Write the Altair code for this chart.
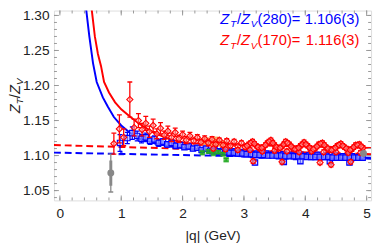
import altair as alt
import pandas as pd

FONT = "Liberation Sans"
RED = "#ff0000"
BLUE = "#0000ff"

# ---------------- data ----------------
red_q = [0.88, 0.97, 1.04, 1.14, 1.21, 1.28, 1.34, 1.40, 1.46, 1.52, 1.58, 1.64, 1.70, 1.76,
         1.82, 1.88, 1.94, 2.00, 2.06, 2.12, 2.18, 2.24, 2.30, 2.36, 2.42, 2.48, 2.54, 2.60,
         2.66, 2.72, 2.78, 2.84, 2.90, 2.96,
         3.02, 3.08, 3.14, 3.20, 3.26, 3.32, 3.38, 3.44, 3.50, 3.56, 3.62, 3.68, 3.74, 3.80,
         3.86, 3.92, 3.98, 4.04, 4.10, 4.16, 4.22, 4.28, 4.34, 4.40, 4.46, 4.52, 4.58, 4.64,
         4.70, 4.76, 4.82, 4.88, 4.94,
         2.50, 2.70, 2.90, 3.10, 3.30, 3.50, 3.70, 3.90, 4.10, 4.30, 4.50, 4.70, 4.90,
         3.15, 3.62, 4.24, 4.42, 4.74,
         3.05, 3.11, 3.17, 3.23, 3.29, 3.35, 3.41, 3.47, 3.53, 3.59, 3.65, 3.71, 3.77, 3.83,
         3.89, 3.95, 4.01, 4.07, 4.13, 4.19, 4.25, 4.31, 4.37, 4.43, 4.49, 4.55, 4.61, 4.67,
         4.73, 4.79, 4.85, 4.91]
red_z = [1.117, 1.138, 1.126, 1.180, 1.140, 1.150, 1.137, 1.146, 1.134, 1.143, 1.131, 1.139, 1.129, 1.135,
         1.126, 1.133, 1.124, 1.130, 1.122, 1.128, 1.121, 1.126, 1.119, 1.124, 1.118, 1.123, 1.116, 1.122,
         1.115, 1.121, 1.114, 1.120, 1.113, 1.118,
         1.112, 1.116, 1.120, 1.114, 1.110, 1.112, 1.118, 1.122, 1.115, 1.110, 1.113, 1.120, 1.116, 1.110,
         1.109, 1.114, 1.119, 1.114, 1.109, 1.110, 1.116, 1.118, 1.112, 1.108, 1.109, 1.114, 1.117, 1.112,
         1.108, 1.109, 1.115, 1.116, 1.111,
         1.110, 1.109, 1.108, 1.108, 1.106, 1.107, 1.106, 1.105, 1.106, 1.105, 1.105, 1.104, 1.104,
         1.092, 1.091, 1.090, 1.087, 1.091,
         1.114, 1.118, 1.117, 1.112, 1.111, 1.115, 1.120, 1.118, 1.112, 1.111, 1.116, 1.118, 1.113, 1.109,
         1.111, 1.116, 1.116, 1.111, 1.109, 1.113, 1.117, 1.115, 1.110, 1.108, 1.111, 1.115, 1.114, 1.110,
         1.108, 1.112, 1.115, 1.113]
red_e = [0.015, 0.020, 0.012, 0.025, 0.012, 0.010, 0.009, 0.010, 0.008, 0.009, 0.007, 0.008, 0.006, 0.007,
         0.006, 0.006, 0.005, 0.005, 0.005, 0.005, 0.004, 0.004, 0.004, 0.004, 0.004, 0.004, 0.003, 0.003,
         0.003, 0.003, 0.003, 0.003, 0.003, 0.003] + [0.003] * 33 + [0.003] * 13 + [0.003] * 5 + [0.003] * 32

blue_q = [0.98, 1.10, 1.18, 1.26, 1.33, 1.40, 1.47, 1.54, 1.61, 1.68, 1.75, 1.82, 1.89, 1.96,
          2.03, 2.10, 2.17, 2.24, 2.31, 2.38, 2.45, 2.52, 2.59, 2.66, 2.73, 2.80, 2.87, 2.94,
          3.01, 3.08, 3.15, 3.22, 3.29, 3.36, 3.43, 3.50, 3.57, 3.64, 3.71, 3.78, 3.85, 3.92,
          3.99, 4.06, 4.13, 4.20, 4.27, 4.34, 4.41, 4.48, 4.55, 4.62, 4.69, 4.76, 4.83, 4.90,
          3.18, 3.65, 3.92, 4.40, 4.72,
          2.485, 2.555, 2.625, 2.695, 2.765, 2.835, 2.905, 2.975, 3.045, 3.115, 3.185, 3.255,
          3.325, 3.395, 3.465, 3.535, 3.605, 3.675, 3.745, 3.815, 3.885, 3.955, 4.025, 4.095,
          4.165, 4.235, 4.305, 4.375, 4.445, 4.515, 4.585, 4.655, 4.725, 4.795, 4.865, 4.935]
blue_z = [1.118, 1.125, 1.132, 1.128, 1.124, 1.126, 1.121, 1.123, 1.118, 1.120, 1.116, 1.118, 1.114, 1.115,
          1.112, 1.113, 1.110, 1.111, 1.108, 1.110, 1.107, 1.108, 1.105, 1.107, 1.104, 1.106, 1.103, 1.105,
          1.102, 1.104, 1.101, 1.103, 1.100, 1.103, 1.101, 1.102, 1.099, 1.102, 1.100, 1.101, 1.098, 1.101,
          1.099, 1.100, 1.098, 1.101, 1.098, 1.100, 1.097, 1.100, 1.098, 1.099, 1.097, 1.099, 1.097, 1.099,
          1.090, 1.091, 1.092, 1.092, 1.090,
          1.106, 1.106, 1.105, 1.105, 1.104, 1.104, 1.103, 1.103, 1.102, 1.102, 1.101, 1.101,
          1.101, 1.100, 1.100, 1.100, 1.100, 1.099, 1.099, 1.099, 1.099, 1.099, 1.098, 1.098,
          1.098, 1.098, 1.098, 1.098, 1.097, 1.097, 1.097, 1.097, 1.097, 1.097, 1.097, 1.097]
blue_e = [0.012, 0.008, 0.009, 0.007, 0.006, 0.006, 0.005, 0.005, 0.005, 0.004, 0.004, 0.004, 0.004,
          0.003] + [0.003] * 42 + [0.003] * 5 + [0.003] * 36

tri_q = [1.00]
tri_z = [1.104]
tri_e = [0.004]

green_q = [2.32, 2.42, 2.50, 2.58, 2.66, 2.71]
green_z = [1.104, 1.106, 1.103, 1.105, 1.102, 1.094]
green_e = [0.002, 0.002, 0.002, 0.002, 0.002, 0.002]

orange_q = [2.33, 2.40, 2.47, 2.54, 2.60, 2.66]
orange_z = [1.120, 1.121, 1.119, 1.122, 1.118, 1.116]
orange_e = [0.004, 0.004, 0.004, 0.004, 0.004, 0.004]

gray_q = [0.83, 4.95]
gray_z = [1.075, 1.103]
gray_e = [0.027, 0.003]
gray_e_in = [0.018, 0.002]

# fitted curves
blue_fit_q = [0.42, 0.48, 0.54, 0.60, 0.70, 0.78, 0.88, 1.00, 1.15, 1.30, 1.55, 1.80, 2.05,
              2.50, 3.00, 3.50, 4.00, 4.50, 5.07]
blue_fit_z = [1.315, 1.270, 1.232, 1.205, 1.183, 1.170, 1.155, 1.143, 1.132, 1.124, 1.117, 1.113, 1.110,
              1.106, 1.103, 1.101, 1.099, 1.098, 1.097]
red_fit_q = [0.51, 0.57, 0.62, 0.67, 0.72, 0.80, 0.90, 1.00, 1.15, 1.30, 1.52, 1.80, 2.05,
             2.50, 3.00, 4.00, 5.07]
red_fit_z = [1.315, 1.270, 1.245, 1.228, 1.205, 1.190, 1.176, 1.166, 1.155, 1.145, 1.133, 1.123, 1.118,
             1.116, 1.115, 1.113, 1.111]

blue_dash_q = [-0.096, 5.072]
blue_dash_z = [1.1042, 1.0955]
red_dash_q = [-0.096, 5.072]
red_dash_z = [1.1150, 1.1020]

x_major = [0, 1, 2, 3, 4, 5]
x_minor = [round(i * 0.2, 1) for i in range(0, 26)]
y_major = [1.05, 1.10, 1.15, 1.20, 1.25, 1.30]
y_minor = [round(1.04 + i * 0.01, 2) for i in range(0, 27)]

# ---------------- chart ----------------
W, H = 324, 194
xs = alt.Scale(domain=[-0.096, 5.072], nice=False, zero=False)
ys = alt.Scale(domain=[1.036, 1.307], nice=False, zero=False)
xaxis = alt.Axis(values=x_major, format="d", ticks=False, tickSize=0, domain=False, grid=False,
                 labelFont=FONT, labelFontSize=14, labelColor="#222", labelPadding=6,
                 title="|q| (GeV)", titleFont=FONT, titleFontSize=14, titleFontWeight="normal",
                 titleColor="#222", titlePadding=9)
yaxis = alt.Axis(values=y_major, format=".2f", ticks=False, tickSize=0, domain=False, grid=False,
                 labelFont=FONT, labelFontSize=14, labelColor="#222", labelPadding=5, title=None)


def X(f):
    return alt.X(f, type="quantitative", scale=xs, axis=xaxis)


def Y(f):
    return alt.Y(f, type="quantitative", scale=ys, axis=yaxis)


def frame(q, z, e):
    return pd.DataFrame({"q": q, "z": z, "lo": [a - b for a, b in zip(z, e)],
                         "hi": [a + b for a, b in zip(z, e)]})


def errbars(df, color, op=1.0):
    bars = alt.Chart(df).mark_rule(color=color, strokeWidth=1.3, opacity=op, clip=True).encode(
        x=X("q"), y=Y("lo"), y2="hi")
    cap1 = alt.Chart(df).mark_tick(color=color, orient="horizontal", size=5, thickness=1.3,
                                   opacity=op, clip=True).encode(x=X("q"), y=Y("lo"))
    cap2 = alt.Chart(df).mark_tick(color=color, orient="horizontal", size=5, thickness=1.3,
                                   opacity=op, clip=True).encode(x=X("q"), y=Y("hi"))
    return bars + cap1 + cap2


def line(q, z, color, dash=None, width=2):
    kw = dict(color=color, strokeWidth=width, clip=True)
    if dash:
        kw["strokeDash"] = dash
    return alt.Chart(pd.DataFrame({"q": q, "z": z})).mark_line(**kw).encode(x=X("q"), y=Y("z"))


red_df = frame(red_q, red_z, red_e)
blue_df = frame(blue_q, blue_z, blue_e)
tri_df = frame(tri_q, tri_z, tri_e)
green_df = frame(green_q, green_z, green_e)
orange_df = frame(orange_q, orange_z, orange_e)
gray_df = frame(gray_q, gray_z, gray_e)
gray_in_df = frame(gray_q, gray_z, gray_e_in)

layers = []
layers.append(line(red_dash_q, red_dash_z, RED, dash=[7, 4]))
layers.append(line(blue_dash_q, blue_dash_z, BLUE, dash=[7, 4]))
layers.append(line(red_fit_q, red_fit_z, RED))
layers.append(line(blue_fit_q, blue_fit_z, BLUE))

layers.append(errbars(gray_df, "#888888"))
layers.append(alt.Chart(gray_in_df).mark_rule(color="#888888", strokeWidth=3, clip=True).encode(
    x=X("q"), y=Y("lo"), y2="hi"))
layers.append(errbars(orange_df, "#f5a55a", 0.8))
layers.append(alt.Chart(orange_df).mark_square(color="#f5a55a", size=45, opacity=0.8, clip=True).encode(
    x=X("q"), y=Y("z")))
layers.append(errbars(blue_df, BLUE))
layers.append(alt.Chart(blue_df).mark_point(shape="square", color=BLUE, fill="#aab4ff", fillOpacity=0.6,
                                            filled=False, size=30, strokeWidth=1.2, clip=True).encode(
    x=X("q"), y=Y("z")))
layers.append(errbars(green_df, "#22aa22"))
layers.append(alt.Chart(green_df).mark_square(color="#22aa22", size=30, clip=True).encode(
    x=X("q"), y=Y("z")))
layers.append(alt.Chart(tri_df).mark_point(shape="triangle-up", color=BLUE, filled=True, size=35,
                                           clip=True).encode(x=X("q"), y=Y("z")))
layers.append(errbars(red_df, RED))
layers.append(alt.Chart(red_df).mark_point(shape="diamond", color=RED, fill="#ffb0b0", fillOpacity=0.5,
                                           filled=False, size=40, strokeWidth=1.1, clip=True).encode(
    x=X("q"), y=Y("z")))
layers.append(alt.Chart(gray_df).mark_circle(color="#888888", size=50, opacity=1, clip=True).encode(
    x=X("q"), y=Y("z")))

# frame ticks (Mathematica style, pointing inwards)
TICK = "#999999"
xmaj = pd.DataFrame({"q": x_major})
xmin = pd.DataFrame({"q": x_minor})
ymaj = pd.DataFrame({"z": y_major})
ymin = pd.DataFrame({"z": y_minor})
for df, ln in ((xmaj, 5), (xmin, 3)):
    layers.append(alt.Chart(df).mark_rule(color=TICK, strokeWidth=1).encode(
        x=X("q"), y=alt.value(H), y2=alt.value(H - ln)))
    layers.append(alt.Chart(df).mark_rule(color=TICK, strokeWidth=1).encode(
        x=X("q"), y=alt.value(0), y2=alt.value(ln)))
for df, ln in ((ymaj, 5), (ymin, 3)):
    layers.append(alt.Chart(df).mark_rule(color=TICK, strokeWidth=1, clip=True).encode(
        y=Y("z"), x=alt.value(0), x2=alt.value(ln)))
    layers.append(alt.Chart(df).mark_rule(color=TICK, strokeWidth=1, clip=True).encode(
        y=Y("z"), x=alt.value(W), x2=alt.value(W - ln)))

one = pd.DataFrame({"a": [0]})


def txt(s, x, y, size, color, italic=False, angle=0, align="left"):
    kw = dict(text=s, font=FONT, fontSize=size, color=color, align=align, baseline="alphabetic",
              fontStyle="italic" if italic else "normal")
    if angle:
        kw["angle"] = angle
    return alt.Chart(one).mark_text(**kw).encode(x=alt.value(x), y=alt.value(y))


# annotation lines
for base_y, col, label in ((13.7, BLUE, ("(280)=", "1.106(3)")), (35.3, RED, ("(170)=", "1.116(3)"))):
    layers.append(txt("Z", 170, base_y, 15, col, italic=True))
    layers.append(txt("T", 180, base_y + 3.5, 10, col, italic=True))
    layers.append(txt("/", 187, base_y, 15, col))
    layers.append(txt("Z", 191, base_y, 15, col, italic=True))
    layers.append(txt("V", 201, base_y + 3.5, 10, col, italic=True))
    layers.append(txt(label[0], 208, base_y, 15, col))
    layers.append(txt(label[1], 312, base_y, 15, col, align="right"))

# rotated y-axis title  Z_T/Z_V
layers.append(txt("Z", -35, 105, 15, "#222", italic=True, angle=270))
layers.append(txt("T", -31.5, 95.8, 10, "#222", italic=True, angle=270))
layers.append(txt("/", -35, 89.6, 15, "#222", angle=270))
layers.append(txt("Z", -35, 85.4, 15, "#222", italic=True, angle=270))
layers.append(txt("V", -31.5, 76.2, 10, "#222", italic=True, angle=270))

chart = alt.layer(*layers).properties(
    width=W, height=H,
    autosize=alt.AutoSizeParams(type="none"),
    padding={"left": 47, "top": 0, "right": 3, "bottom": 44},
).configure_view(stroke="#999999", strokeWidth=1).configure(background="white")

chart.save("out.html", embed_options={"renderer": "svg", "actions": False})
